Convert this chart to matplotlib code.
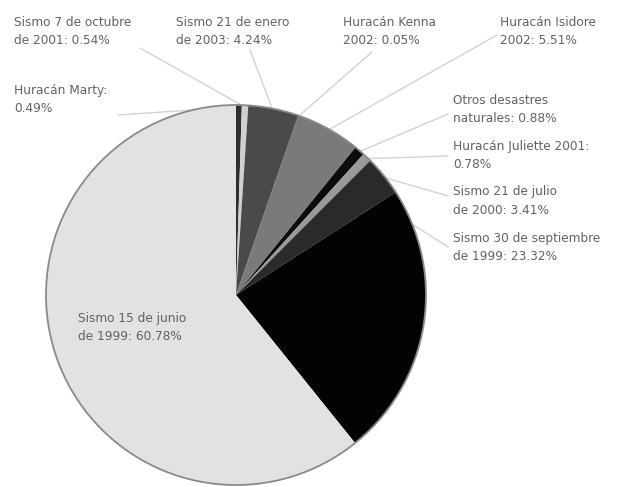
import numpy as np
import matplotlib
matplotlib.use("Agg")
import matplotlib.pyplot as plt
from matplotlib.patches import Circle

labels = [
    "Huracán Marty:\n0.49%",
    "Sismo 7 de octubre\nde 2001: 0.54%",
    "Sismo 21 de enero\nde 2003: 4.24%",
    "Huracán Kenna\n2002: 0.05%",
    "Huracán Isidore\n2002: 5.51%",
    "Otros desastres\nnaturales: 0.88%",
    "Huracán Juliette 2001:\n0.78%",
    "Sismo 21 de julio\nde 2000: 3.41%",
    "Sismo 30 de septiembre\nde 1999: 23.32%",
    "Sismo 15 de junio\nde 1999: 60.78%",
]
values = [0.49, 0.54, 4.24, 0.05, 5.51, 0.88, 0.78, 3.41, 23.32, 60.78]
colors = ["#2e2e2e", "#d0d0d0", "#4a4a4a", "#111111", "#7a7a7a",
          "#0c0c0c", "#9a9a9a", "#2a2a2a", "#030303", "#e2e2e2"]

# label text positions (pixel coords, top-left of text), leader start,
# and where along each wedge (0..1 of its angle) the leader ends
text_pos = [(14, 84), (14, 16), (176, 16), (343, 16), (500, 16),
            (453, 94), (453, 140), (453, 185), (453, 232), (78, 312)]
leader_start = [(118, 115), (140, 48), (250, 50), (372, 52), (497, 35),
                (448, 114), (448, 156), (448, 196), (448, 247), None]
leader_frac = [0.5, 0.5, 0.5, 0.5, 0.5, 0.5, 0.5, 0.5, 0.12, 0.5]

W, H = 621, 487
fig = plt.figure(figsize=(W / 100, H / 100), dpi=100)
ax = fig.add_axes([0, 0, 1, 1])
cx, cy, R = 236, H - 295, 190
wedges, _ = ax.pie(values, colors=colors, startangle=90, counterclock=False,
                   center=(cx, cy), radius=R,
                   wedgeprops=dict(edgecolor="none", linewidth=0))
ax.add_patch(Circle((cx, cy), R, facecolor="none", edgecolor="#8a8a8a",
                    lw=1.3, zorder=3))
ax.set_xlim(0, W)
ax.set_ylim(0, H)
ax.set_aspect("equal")
ax.axis("off")

tc = "#626262"
for lab, w, tp, ls, fr in zip(labels, wedges, text_pos, leader_start, leader_frac):
    ax.text(tp[0], H - tp[1], lab, ha="left", va="top", fontsize=8.7,
            color=tc, family="DejaVu Sans", linespacing=1.55)
    if ls is not None:
        # wedges drawn clockwise: theta2 is the start, theta1 the end
        ang = np.deg2rad(w.theta2 + (w.theta1 - w.theta2) * fr)
        tx, ty = cx + R * 0.99 * np.cos(ang), cy + R * 0.99 * np.sin(ang)
        ax.plot([ls[0], tx], [H - ls[1], ty], color="#d2d2d2", lw=1.0,
                solid_capstyle="round", zorder=0.5)

fig.savefig("out.png", dpi=100)
